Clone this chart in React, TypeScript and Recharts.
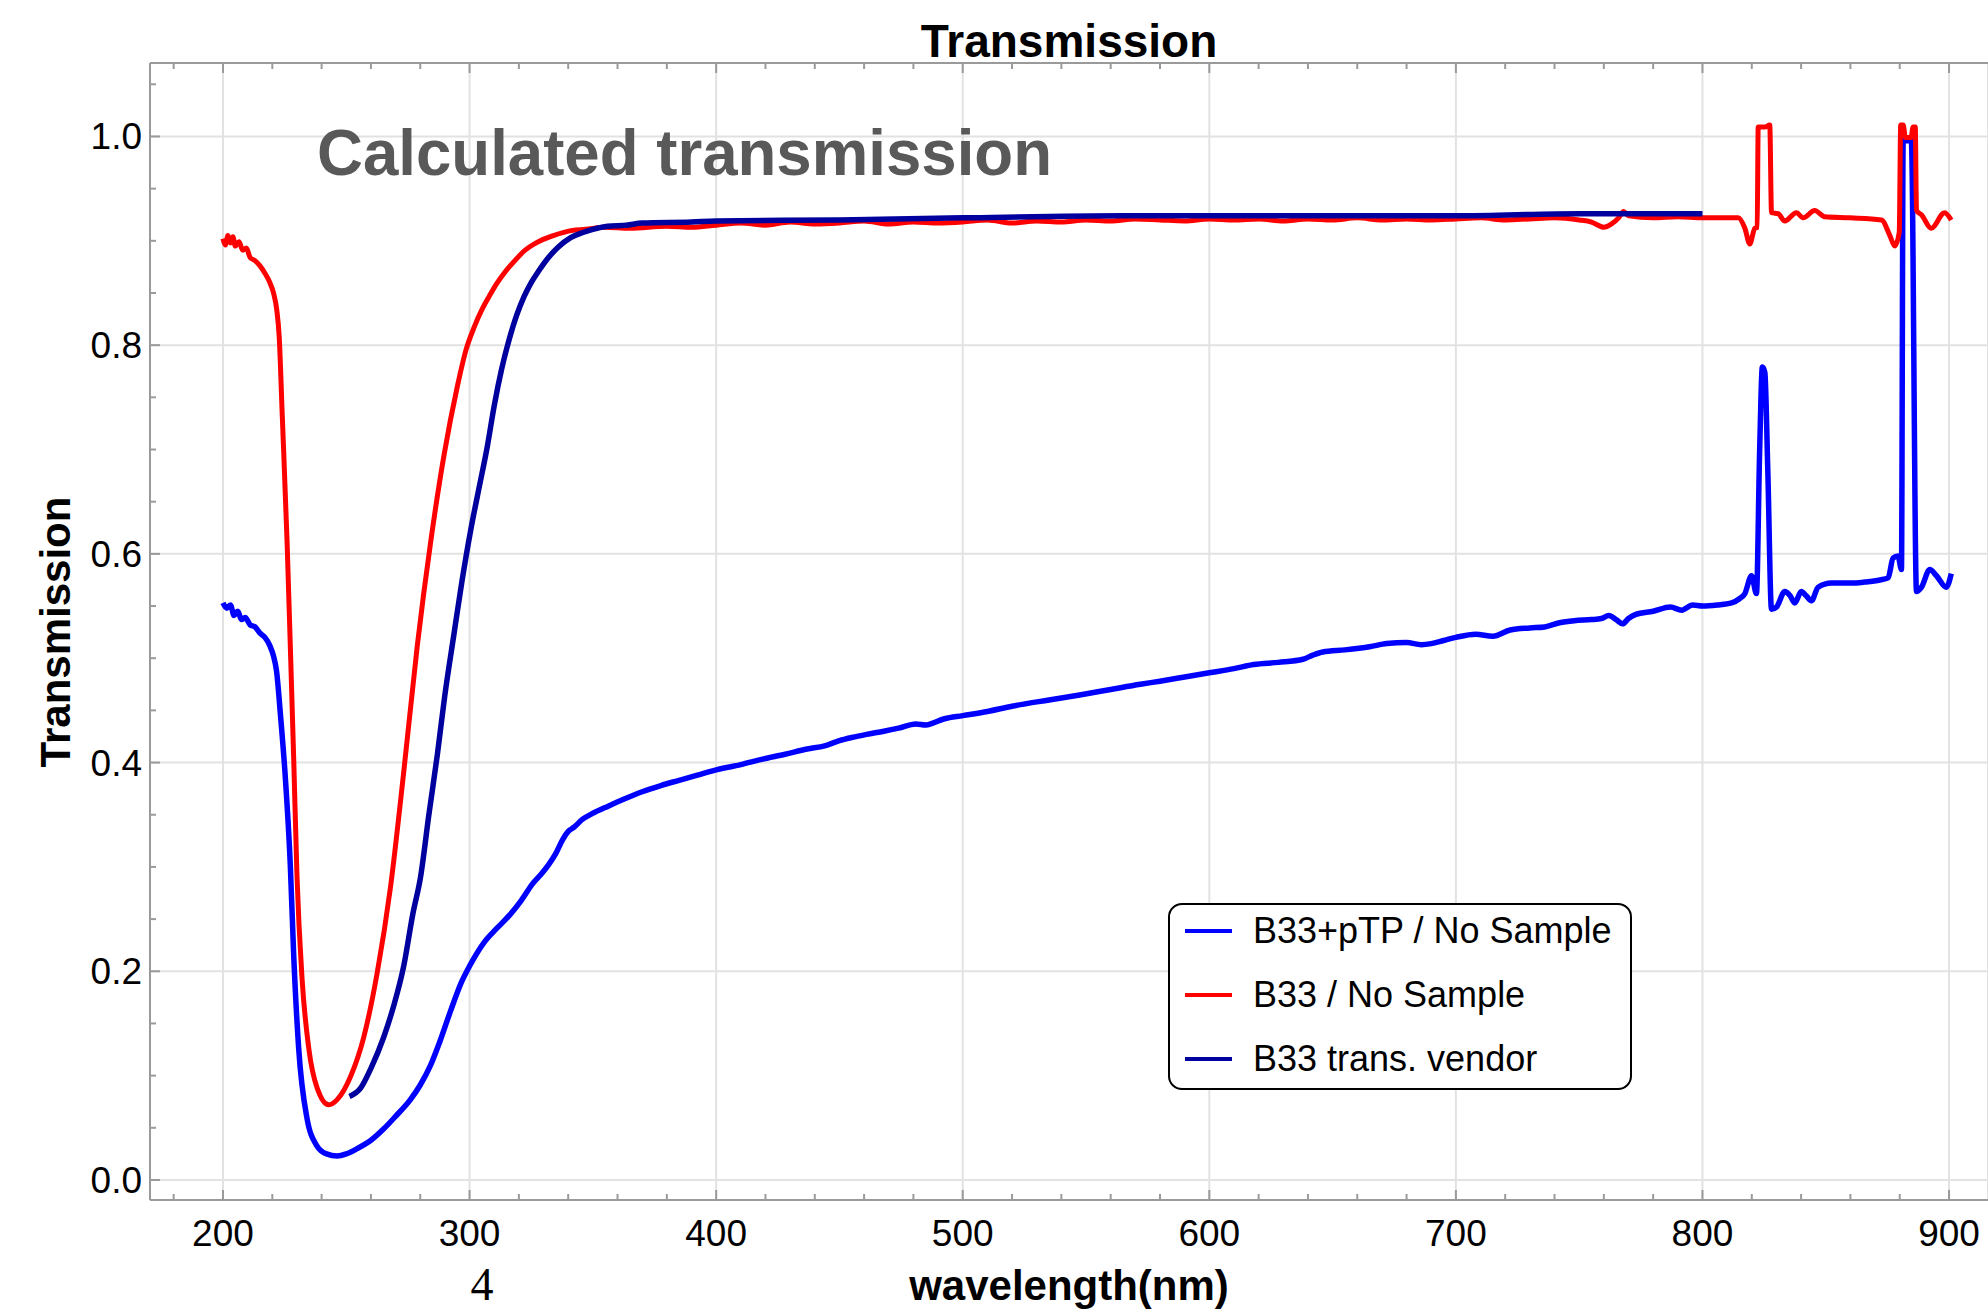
import React from 'react'
import { LineChart, Line, XAxis, YAxis, CartesianGrid, Legend } from 'recharts'

const W = 1988
const H = 1312
const X_DOMAIN: [number, number] = [170.4, 915.8]
const Y_DOMAIN: [number, number] = [-0.0192, 1.0704]
const FONT = '"Liberation Sans", Arial, Helvetica, sans-serif'
const FRAME = '#9a9a9a'

const seriesNames = ['B33+pTP / No Sample', 'B33 / No Sample', 'B33 trans. vendor']

// tick values
const xMajorTicks = [200, 300, 400, 500, 600, 700, 800, 900]
const xMinorTicks = [
  180, 200, 220, 240, 260, 280, 300, 320, 340, 360, 380, 400, 420, 440, 460, 480, 500, 520, 540,
  560, 580, 600, 620, 640, 660, 680, 700, 720, 740, 760, 780, 800, 820, 840, 860, 880, 900,
]
const yMajorTicks = [0, 0.2, 0.4, 0.6, 0.8, 1.0]
const yMinorTicks = [
  0, 0.05, 0.1, 0.15, 0.2, 0.25, 0.3, 0.35, 0.4, 0.45, 0.5, 0.55, 0.6, 0.65, 0.7, 0.75, 0.8, 0.85,
  0.9, 0.95, 1.0, 1.05,
]

// [wavelength nm, transmission]
const b33PtpPoints: [number, number][] = [
  [200, 0.553], [201.5, 0.548], [203, 0.551], [204.5, 0.541], [206, 0.545], [207.5, 0.537],
  [209, 0.539], [211, 0.532], [213, 0.53], [215, 0.524], [217, 0.52], [219, 0.512],
  [220.5, 0.502], [221.7, 0.488], [223.3, 0.446], [225.3, 0.385], [227.3, 0.302], [228.7, 0.214],
  [230.7, 0.126], [234, 0.06], [238, 0.033], [242, 0.025], [246.3, 0.023], [250, 0.025],
  [254.4, 0.03], [260, 0.038], [265.2, 0.049], [270, 0.061], [276, 0.077], [280, 0.091],
  [284.2, 0.11], [288, 0.133], [292.3, 0.162], [296.8, 0.19], [300, 0.205], [306, 0.228],
  [311, 0.241], [316.3, 0.254], [321, 0.268], [325.6, 0.284], [329, 0.293], [332, 0.302],
  [335, 0.313], [337.7, 0.326], [340, 0.334], [342.3, 0.338], [346, 0.346], [349.7, 0.351],
  [356, 0.358], [362.7, 0.365], [370, 0.372], [377.6, 0.378], [385, 0.383], [392.4, 0.388],
  [400, 0.393], [410, 0.398], [418.4, 0.403], [428, 0.408], [436.9, 0.413], [444, 0.416],
  [450, 0.421], [455, 0.424], [461, 0.427], [468, 0.43], [474, 0.433], [481, 0.437],
  [485, 0.436], [492.6, 0.442], [500, 0.445], [510, 0.449], [520, 0.454], [535, 0.46],
  [548, 0.465], [560, 0.47], [572, 0.475], [580, 0.478], [590, 0.482], [600, 0.486],
  [610, 0.49], [618, 0.494], [628, 0.496], [638, 0.499], [642, 0.503], [646, 0.506],
  [655, 0.508], [665, 0.511], [672, 0.514], [680, 0.515], [686, 0.513], [690, 0.514],
  [695, 0.517], [700, 0.52], [708, 0.523], [715, 0.521], [722, 0.527], [730, 0.529],
  [736, 0.53], [742, 0.534], [748, 0.536], [755, 0.537], [759, 0.538], [762, 0.541],
  [765, 0.537], [767.6, 0.533], [770, 0.538], [773, 0.542], [780, 0.545], [787, 0.549],
  [791.6, 0.546], [796, 0.551], [800, 0.55], [806, 0.551], [811.8, 0.553], [815, 0.557],
  [817.2, 0.562], [819.9, 0.579], [821.9, 0.562], [823.2, 0.7], [824.3, 0.779], [825.3, 0.774],
  [826.5, 0.68], [828, 0.547], [830, 0.549], [833.4, 0.564], [835.5, 0.56], [837.4, 0.553],
  [840.1, 0.564], [842, 0.56], [844.2, 0.555], [846.9, 0.568], [852.3, 0.572], [860, 0.572],
  [865.8, 0.573], [872, 0.575], [875.3, 0.577], [877.3, 0.596], [879.3, 0.598], [880.7, 0.585],
  [881.4, 0.996], [884.7, 0.996], [886.8, 0.564], [888.8, 0.568], [892.2, 0.585], [894.9, 0.579],
  [898.9, 0.568], [900.9, 0.581],
]

const b33Points: [number, number][] = [
  [200, 0.902], [201, 0.896], [202, 0.905], [203, 0.898], [204, 0.904], [205, 0.895],
  [206.5, 0.899], [208, 0.891], [209.5, 0.893], [211, 0.884], [213, 0.881], [215, 0.876],
  [217, 0.869], [219, 0.86], [220.5, 0.85], [221.8, 0.834], [222.8, 0.808], [224, 0.735],
  [226, 0.611], [227.3, 0.512], [228.7, 0.402], [230, 0.292], [232.1, 0.192], [234.8, 0.126],
  [238.2, 0.088], [242.9, 0.072], [246.3, 0.077], [251.7, 0.099], [257.1, 0.137], [262.5, 0.198],
  [267.9, 0.28], [273.3, 0.391], [278.8, 0.512], [284.2, 0.611], [289.6, 0.694], [295, 0.76],
  [298.5, 0.795], [302, 0.818], [305, 0.834], [308, 0.847], [311, 0.859], [314, 0.869],
  [318, 0.88], [322, 0.89], [327, 0.898], [334, 0.905], [341.8, 0.91], [347, 0.911],
  [354.5, 0.913], [365, 0.912], [380, 0.914], [390, 0.913], [400, 0.915], [410, 0.917],
  [420, 0.915], [430, 0.918], [440, 0.916], [450, 0.917], [460, 0.919], [470, 0.916],
  [480, 0.918], [490, 0.917], [500, 0.918], [510, 0.92], [520, 0.917], [530, 0.919],
  [540, 0.918], [550, 0.92], [560, 0.919], [570, 0.921], [580, 0.92], [590, 0.919],
  [600, 0.921], [610, 0.92], [620, 0.921], [630, 0.919], [640, 0.921], [650, 0.92],
  [660, 0.922], [670, 0.92], [680, 0.921], [690, 0.92], [700, 0.921], [710, 0.922],
  [720, 0.92], [730, 0.921], [740, 0.922], [750, 0.92], [755, 0.918], [760, 0.913],
  [763, 0.916], [766, 0.922], [768, 0.928], [770, 0.924], [780, 0.922], [790, 0.923],
  [800, 0.922], [810, 0.922], [814.5, 0.922], [817.2, 0.912], [819.2, 0.897], [821.2, 0.912],
  [822.2, 0.913], [822.6, 1.009], [825.3, 1.009], [827.3, 1.011], [828, 0.927], [830.7, 0.926],
  [833.4, 0.919], [838.1, 0.927], [840.8, 0.922], [845.5, 0.929], [849.6, 0.923], [860, 0.922],
  [872.6, 0.92], [876, 0.905], [878, 0.895], [879.8, 0.908], [880.4, 1.011], [881.4, 1.011],
  [882.3, 0.999], [884.6, 0.999], [885.4, 1.009], [886.3, 1.009], [886.8, 0.929], [888.8, 0.925],
  [892.8, 0.912], [898.2, 0.927], [900.9, 0.92],
]

const vendorPoints: [number, number][] = [
  [251.3, 0.08], [255.8, 0.088], [260, 0.107], [265.2, 0.137], [269, 0.165], [273.3, 0.205],
  [277, 0.255], [280.1, 0.29], [283.5, 0.35], [286.9, 0.407], [290, 0.465], [293.6, 0.522],
  [297, 0.575], [300.4, 0.622], [304, 0.665], [307.2, 0.703], [310, 0.742], [313, 0.777],
  [316, 0.805], [319, 0.828], [322, 0.846], [325, 0.86], [328, 0.871], [332, 0.884],
  [336, 0.894], [341, 0.903], [346, 0.908], [350, 0.911], [356, 0.914], [363.6, 0.915],
  [370, 0.917], [390, 0.918], [400, 0.919], [450, 0.92], [500, 0.922], [565, 0.924],
  [600, 0.924], [650, 0.924], [700, 0.924], [750, 0.926], [800, 0.926],
]

const toRows = (pts: [number, number][]) => pts.map(([x, y]) => ({ x, y }))

const isMajorX = (v: number) => v % 100 === 0
const isMajorY = (v: number) => Math.round(v * 100) % 20 === 0

function BottomTick(props: any) {
  const { x, y, payload } = props
  const major = isMajorX(payload.value)
  return (
    <g>
      <line x1={x} x2={x} y1={y} y2={y - (major ? 10 : 6)} stroke={FRAME} strokeWidth={2} />
      {major && (
        <text x={x} y={y + 46} textAnchor="middle" fontSize={37} fontFamily={FONT} fill="#000">
          {payload.value}
        </text>
      )}
    </g>
  )
}

function TopTick(props: any) {
  const { x, y, payload } = props
  const major = isMajorX(payload.value)
  return <line x1={x} x2={x} y1={y} y2={y + (major ? 10 : 6)} stroke={FRAME} strokeWidth={2} />
}

function LeftTick(props: any) {
  const { x, y, payload } = props
  const major = isMajorY(payload.value)
  return (
    <g>
      <line x1={x} x2={x + (major ? 10 : 6)} y1={y} y2={y} stroke={FRAME} strokeWidth={2} />
      {major && (
        <text x={x - 8} y={y} dy="0.35em" textAnchor="end" fontSize={37} fontFamily={FONT} fill="#000">
          {payload.value.toFixed(1)}
        </text>
      )}
    </g>
  )
}

function RightTick(props: any) {
  const { x, y, payload } = props
  const major = isMajorY(payload.value)
  return <line x1={x} x2={x - (major ? 10 : 6)} y1={y} y2={y} stroke={FRAME} strokeWidth={2} />
}

function LegendBox({ payload }: any) {
  const items = [...(payload || [])].sort(
    (a: any, b: any) => seriesNames.indexOf(a.value) - seriesNames.indexOf(b.value)
  )
  return (
    <div
      style={{
        position: 'relative',
        width: 464,
        height: 187,
        boxSizing: 'border-box',
        border: '2px solid #000',
        borderRadius: 14,
        background: '#fff',
        fontFamily: FONT,
      }}
    >
      {items.map((entry: any, i: number) => (
        <div
          key={entry.value}
          style={{
            position: 'absolute',
            left: 0,
            top: 6 + i * 64,
            height: 40,
            display: 'flex',
            alignItems: 'center',
          }}
        >
          <span style={{ display: 'inline-block', marginLeft: 15, width: 47, height: 4, background: entry.color }} />
          <span style={{ marginLeft: 21, fontSize: 36, lineHeight: '40px', color: '#000', whiteSpace: 'nowrap' }}>
            {entry.value}
          </span>
        </div>
      ))}
    </div>
  )
}

export default function App() {
  return (
    <div style={{ position: 'absolute', left: 0, top: 0, width: W, height: H, background: '#fff' }}>
      <LineChart width={W} height={H} data={toRows(b33Points)} margin={{ top: 62, right: 0, bottom: 0, left: 0 }}>
        <XAxis xAxisId="x" type="number" dataKey="x" domain={X_DOMAIN} allowDataOverflow ticks={xMajorTicks} hide />
        <YAxis yAxisId="y" type="number" domain={Y_DOMAIN} allowDataOverflow ticks={yMajorTicks} hide />
        <CartesianGrid xAxisId="x" yAxisId="y" stroke="#e2e2e2" strokeWidth={2} />
        <XAxis
          xAxisId="bottom"
          orientation="bottom"
          type="number"
          dataKey="x"
          domain={X_DOMAIN}
          allowDataOverflow
          ticks={xMinorTicks}
          interval={0}
          height={112}
          tickSize={0}
          tickMargin={0}
          tickLine={false}
          axisLine={{ stroke: FRAME, strokeWidth: 2 }}
          tick={BottomTick}
        />
        <XAxis
          xAxisId="top"
          orientation="top"
          type="number"
          dataKey="x"
          domain={X_DOMAIN}
          allowDataOverflow
          ticks={xMinorTicks}
          interval={0}
          height={1}
          tickSize={0}
          tickMargin={0}
          tickLine={false}
          axisLine={{ stroke: FRAME, strokeWidth: 2 }}
          tick={TopTick}
        />
        <YAxis
          yAxisId="left"
          orientation="left"
          type="number"
          domain={Y_DOMAIN}
          allowDataOverflow
          ticks={yMinorTicks}
          interval={0}
          width={150}
          tickSize={0}
          tickMargin={0}
          tickLine={false}
          axisLine={{ stroke: FRAME, strokeWidth: 2 }}
          tick={LeftTick}
        />
        <YAxis
          yAxisId="right"
          orientation="right"
          type="number"
          domain={Y_DOMAIN}
          allowDataOverflow
          ticks={yMinorTicks}
          interval={0}
          width={0}
          tickSize={0}
          tickMargin={0}
          tickLine={false}
          axisLine={false}
          tick={RightTick}
        />
        <Line
          xAxisId="x"
          yAxisId="y"
          data={toRows(b33PtpPoints)}
          dataKey="y"
          name={seriesNames[0]}
          type="monotone"
          stroke="#0000ff"
          strokeWidth={5.5}
          dot={false}
          isAnimationActive={false}
        />
        <Line
          xAxisId="x"
          yAxisId="y"
          data={toRows(b33Points)}
          dataKey="y"
          name={seriesNames[1]}
          type="monotone"
          stroke="#ff0000"
          strokeWidth={5}
          dot={false}
          isAnimationActive={false}
        />
        <Line
          xAxisId="x"
          yAxisId="y"
          data={toRows(vendorPoints)}
          dataKey="y"
          name={seriesNames[2]}
          type="monotone"
          stroke="#00009e"
          strokeWidth={5.5}
          dot={false}
          isAnimationActive={false}
        />
        <Legend
          layout="vertical"
          align="center"
          verticalAlign="middle"
          itemSorter={null as any}
          wrapperStyle={{ left: 1168, top: 903, width: 464, height: 187 }}
          content={LegendBox}
        />
      </LineChart>
      <svg
        width={W}
        height={H}
        style={{ position: 'absolute', left: 0, top: 0, pointerEvents: 'none' }}
        fontFamily={FONT}
      >
        <text x={1069} y={57} textAnchor="middle" fontSize={46} fontWeight="bold" fill="#000">
          Transmission
        </text>
        <text x={317} y={175} fontSize={65} fontWeight="bold" fill="#595959" textLength={735} lengthAdjust="spacingAndGlyphs">
          Calculated transmission
        </text>
        <text transform="translate(70,632) rotate(-90)" textAnchor="middle" fontSize={42} fontWeight="bold" fill="#000">
          Transmission
        </text>
        <text x={1069} y={1300} textAnchor="middle" fontSize={42} fontWeight="bold" fill="#000">
          wavelength(nm)
        </text>
        <text x={482} y={1300} textAnchor="middle" fontSize={46} fontFamily='"Liberation Serif", "Times New Roman", serif' fill="#000">
          4
        </text>
      </svg>
    </div>
  )
}
